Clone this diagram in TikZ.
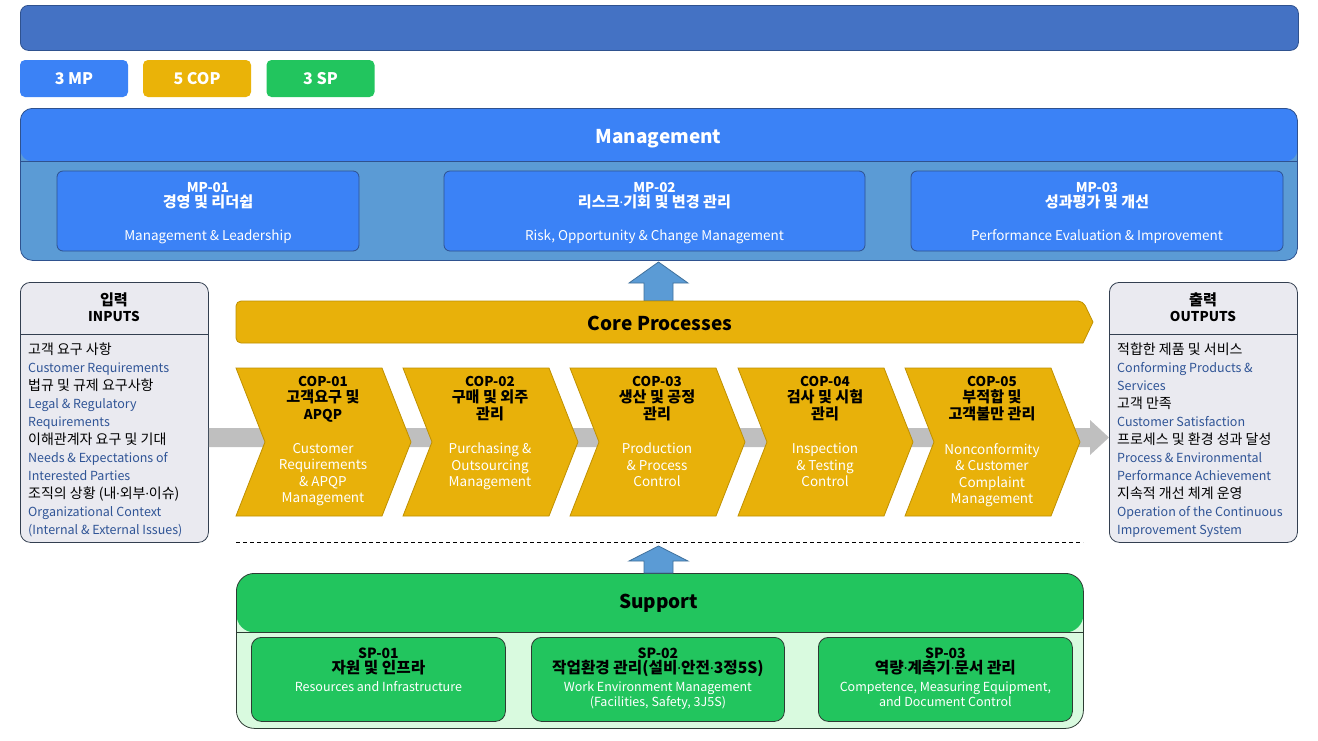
\documentclass[tikz,border=0pt]{standalone}
\usepackage{fontspec}
\setmainfont{Noto Sans CJK KR}
\newfontfamily\kofont{Noto Sans CJK KR}[Scale=1.12]
\newfontfamily\dotfont{Noto Sans}
\newcommand\ko[1]{{\kofont #1}}
\newcommand\md{{\dotfont ·}}
\newcommand\sptitle[1]{{\bfseries\fontsize{14}{15}\selectfont #1}}
\usetikzlibrary{calc}
\definecolor{bannerfill}{HTML}{4472C4}
\definecolor{bannerline}{HTML}{2F528F}
\definecolor{mpblue}{HTML}{3B82F6}
\definecolor{copgold}{HTML}{E8B10A}
\definecolor{badgegold}{HTML}{EAB308}
\definecolor{spgreen}{HTML}{22C55E}
\definecolor{mgmtbody}{HTML}{5B9BD5}
\definecolor{arrowblue}{HTML}{5B9BD5}
\definecolor{arrowline}{HTML}{41719C}
\definecolor{flowgray}{HTML}{BFBFBF}
\definecolor{iohead}{HTML}{A6A6A6}
\definecolor{iobody}{HTML}{EAEAF0}
\definecolor{ioline}{HTML}{333F50}
\definecolor{engtext}{HTML}{2F5496}
\definecolor{goldline}{HTML}{BF9000}
\definecolor{supbody}{HTML}{D9FADF}
\definecolor{darkline}{HTML}{2D3B33}
\newcommand\copchev[4]{%
  \draw[chevron] (#1,368) -- ++(146,0) -- ++(29,74) -- ++(-29,74) -- ++(-146,0) -- ++(29,-74) -- cycle;
  \node[coptitle, anchor=north] (#2t) at ({#1+87},376) {#3};
  \node[copdesc, anchor=north] (#2d) at ({#1+87},443) {#4};
}
\begin{document}
\begin{tikzpicture}[x=1pt,y=-1pt,
  lw/.style={line width=0.8pt},
  badge/.style={fill=#1, rounded corners=5pt, minimum width=108pt, minimum height=37pt, inner sep=0pt, text=white, font=\bfseries\fontsize{16}{18}\selectfont},
  mpbox/.style={draw=bannerline, lw, fill=mpblue, rounded corners=6pt, minimum height=80pt, inner sep=0pt},
  mptext/.style={text=white, align=center, inner sep=0pt, font=\fontsize{13.5}{15.5}\selectfont},
  chevron/.style={draw=goldline, lw, fill=copgold},
  coptitle/.style={align=center, inner sep=0pt, font=\bfseries\fontsize{13.5}{16.5}\selectfont, text=black},
  copdesc/.style={align=center, inner sep=0pt, font=\fontsize{13.5}{16.5}\selectfont, text=white},
  headtext/.style={font=\bfseries\fontsize{19}{22}\selectfont},
  iobox/.style={draw=ioline, lw, fill=iobody, rounded corners=10pt, minimum width=188pt, minimum height=260pt, anchor=north west, inner sep=0pt,
    path picture={\fill[iohead] (path picture bounding box.north west) rectangle ([yshift=-52pt]path picture bounding box.north east);}},
  iohead/.style={align=center, inner sep=0pt, font=\bfseries\fontsize{13.5}{16}\selectfont},
  iotext/.style={anchor=north west, align=left, inner sep=0pt, font=\fontsize{12.5}{18}\selectfont},
  blockarrow/.style={draw=arrowline, lw, fill=arrowblue},
  spbox/.style={draw=darkline, lw, fill=spgreen, rounded corners=10pt, minimum height=84pt, anchor=north west, inner sep=0pt},
  sptext/.style={anchor=north, align=center, inner sep=0pt, font=\fontsize{12.5}{15}\selectfont}
]
\useasboundingbox (0,0) rectangle (1318,740);

% top banner
\node[draw=bannerline, lw, fill=bannerfill, rounded corners=8pt, minimum width=1278pt, minimum height=45pt, anchor=north west, inner sep=0pt] (banner) at (20,5) {};

% badges
\node[badge=mpblue] (bmp) at (74,78.5) {3 MP};
\node[badge=badgegold] (bcop) at (197,78.5) {5 COP};
\node[badge=spgreen] (bsp) at (320.5,78.5) {3 SP};

% management container
\node[draw=bannerline, lw, fill=mgmtbody, rounded corners=12pt, minimum width=1277pt, minimum height=152pt, anchor=north west, inner sep=0pt,
  path picture={\fill[mpblue] (path picture bounding box.north west) rectangle ([yshift=-53pt]path picture bounding box.north east);}] (mgmtbox) at (20,108) {};
\draw[bannerline, lw] ([yshift=-53pt]mgmtbox.north west) -- ([yshift=-53pt]mgmtbox.north east);
\node[headtext, text=white] (mgmt) at (658.5,139) {Management};

\node[mpbox, minimum width=302pt] (mp1) at (208,211) {};
\node[mpbox, minimum width=421pt] (mp2) at (654.5,211) {};
\node[mpbox, minimum width=372pt] (mp3) at (1097,211) {};
\node[mptext] (mp1t) at ([yshift=-2pt]mp1.center) {\textbf{MP-01}\\\textbf{\ko{경영 및 리더쉽}}\\[17pt]Management \& Leadership};
\node[mptext] (mp2t) at ([yshift=-2pt]mp2.center) {\textbf{MP-02}\\\textbf{\ko{리스크\md 기회 및 변경 관리}}\\[17pt]Risk, Opportunity \& Change Management};
\node[mptext] (mp3t) at ([yshift=-2pt]mp3.center) {\textbf{MP-03}\\\textbf{\ko{성과평가 및 개선}}\\[17pt]Performance Evaluation \& Improvement};

% up arrow core -> management
\coordinate (upA) at (658.5,262);
\draw[blockarrow] (upA) -- ++(29.5,21) -- ++(-15,0) -- ++(0,18) -- ++(-29,0) -- ++(0,-18) -- ++(-15,0) -- cycle;

% core processes banner
\draw[chevron] (1083,343) [rounded corners=5pt] -- (236,343) -- (236,301) -- (1083,301) [sharp corners] -- (1093,322) -- cycle;
\node[headtext, text=black] (core) at (660,323) {Core Processes};

% inputs / outputs
\node[iobox] (inbox) at (20,282) {};
\draw[ioline, lw] ([yshift=-52pt]inbox.north west) -- ([yshift=-52pt]inbox.north east);
\node[iohead] (inhead) at (114,307) {\ko{입력}\\INPUTS};
\node[iotext] (intext) at (28,343) {\ko{고객 요구 사항}\\\textcolor{engtext}{Customer Requirements}\\\ko{법규 및 규제 요구사항}\\\textcolor{engtext}{Legal \& Regulatory}\\\textcolor{engtext}{Requirements}\\\ko{이해관계자 요구 및 기대}\\\textcolor{engtext}{Needs \& Expectations of}\\\textcolor{engtext}{Interested Parties}\\\ko{조직의 상황 (내\md 외부\md 이슈)}\\\textcolor{engtext}{Organizational Context}\\\textcolor{engtext}{(Internal \& External Issues)}};

\node[iobox] (outbox) at (1109,282) {};
\draw[ioline, lw] ([yshift=-52pt]outbox.north west) -- ([yshift=-52pt]outbox.north east);
\node[iohead] (outhead) at (1203,307) {\ko{출력}\\OUTPUTS};
\node[iotext] (outtext) at (1117,343) {\ko{적합한 제품 및 서비스}\\\textcolor{engtext}{Conforming Products \&}\\\textcolor{engtext}{Services}\\\ko{고객 만족}\\\textcolor{engtext}{Customer Satisfaction}\\\ko{프로세스 및 환경 성과 달성}\\\textcolor{engtext}{Process \& Environmental}\\\textcolor{engtext}{Performance Achievement}\\\ko{지속적 개선 체계 운영}\\\textcolor{engtext}{Operation of the Continuous}\\\textcolor{engtext}{Improvement System}};

% gray flow arrow inputs -> outputs
\fill[flowgray] (inbox.east |- 0,428) -- (1090,428) -- (1090,420) -- (outbox.west |- 0,437.5) -- (1090,455) -- (1090,447) -- (inbox.east |- 0,447) -- cycle;

% chevrons
\copchev{236}{c1}{COP-01\\\ko{고객요구 및}\\APQP}{Customer\\Requirements\\\& APQP\\Management}
\copchev{403}{c2}{COP-02\\\ko{구매 및 외주}\\\ko{관리}}{Purchasing \&\\Outsourcing\\Management}
\copchev{570}{c3}{COP-03\\\ko{생산 및 공정}\\\ko{관리}}{Production\\\& Process\\Control}
\copchev{738}{c4}{COP-04\\\ko{검사 및 시험}\\\ko{관리}}{Inspection\\\& Testing\\Control}
\copchev{905}{c5}{COP-05\\\ko{부적합 및}\\\ko{고객불만 관리}}{Nonconformity\\\& Customer\\Complaint\\Management}

% dashed separator
\coordinate (dashL) at (236,542);
\coordinate (dashR) at (1083,542);
\draw[dashed, dash pattern=on 4pt off 3pt, line width=0.8pt] (dashL) -- (dashR);

% support container
\node[draw=darkline, lw, fill=supbody, rounded corners=18pt, minimum width=847pt, minimum height=155pt, anchor=north west, inner sep=0pt,
  path picture={\fill[spgreen] (path picture bounding box.north west) rectangle ([yshift=-59pt]path picture bounding box.north east);}] (supbox) at (236,573) {};
\draw[darkline, lw] ([yshift=-59pt]supbox.north west) -- ([yshift=-59pt]supbox.north east);
\node[headtext, text=black] (sup) at (658.5,603) {Support};

% up arrow support -> core
\coordinate (upB) at (658.5,546);
\draw[blockarrow] (upB) -- ++(29.5,15) -- ++(-15,0) -- ++(0,12) -- ++(-29,0) -- ++(0,-12) -- ++(-15,0) -- cycle;

\node[spbox, minimum width=254pt] (sp1) at (251,637) {};
\node[spbox, minimum width=253pt] (sp2) at (531,637) {};
\node[spbox, minimum width=254pt] (sp3) at (818,637) {};
\node[sptext] (sp1t) at (sp1.north |- 0,648) {\sptitle{SP-01}\\\sptitle{\ko{자원 및 인프라}}\\[2.5pt]\textcolor{white}{Resources and Infrastructure}};
\node[sptext] (sp2t) at (sp2.north |- 0,648) {\sptitle{SP-02}\\\sptitle{\ko{작업환경 관리(설비\md 안전\md 3정5S)}}\\[2.5pt]\textcolor{white}{Work Environment Management}\\\textcolor{white}{(Facilities, Safety, 3J5S)}};
\node[sptext] (sp3t) at (sp3.north |- 0,648) {\sptitle{SP-03}\\\sptitle{\ko{역량\md 계측기\md 문서 관리}}\\[2.5pt]\textcolor{white}{Competence, Measuring Equipment,}\\\textcolor{white}{and Document Control}};
\end{tikzpicture}
\end{document}
